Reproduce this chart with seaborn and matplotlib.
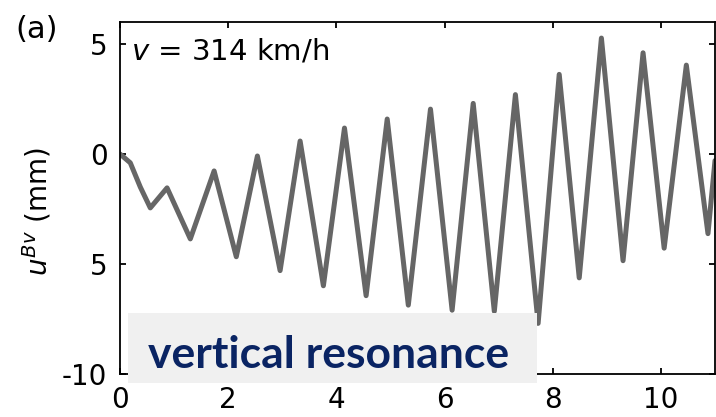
import matplotlib
matplotlib.use("Agg")
import matplotlib.pyplot as plt
from matplotlib.patches import Rectangle
import seaborn as sns
import pandas as pd

# data (time in s, displacement in mm)
t = [0.0, 0.19, 0.375, 0.56, 0.87, 1.30, 1.74, 2.15, 2.54, 2.96, 3.33, 3.76,
     4.15, 4.55, 4.94, 5.33, 5.74, 6.14, 6.53, 6.92, 7.31, 7.73, 8.12, 8.49,
     8.90, 9.30, 9.67, 10.06, 10.47, 10.87, 11.0]
u = [0.0, -0.4, -1.5, -2.45, -1.54, -3.86, -0.77, -4.67, -0.09, -5.3, 0.59, -5.99,
     1.18, -6.44, 1.59, -6.87, 2.04, -7.1, 2.3, -7.15, 2.7, -7.7, 3.62, -5.63,
     5.27, -4.85, 4.6, -4.28, 4.04, -3.62, -0.3]
xticks = [0, 2, 4, 6, 8, 10]
yticks = [5, 0, -5, -10]
ytick_labels = ["5", "0", "5", "-10"]
speed_label = "$v$ = 314 km/h"
panel_label = "(a)"
ylabel = "$u^{Bv}$ (mm)"
note = "vertical resonance"

sns.set_style("ticks")
plt.rcParams["font.family"] = ["DejaVu Sans"]
plt.rcParams["text.color"] = "black"
plt.rcParams["axes.labelcolor"] = "black"
plt.rcParams["xtick.color"] = "black"
plt.rcParams["ytick.color"] = "black"

df = pd.DataFrame({"t": t, "u": u})

fig = plt.figure(figsize=(7.16, 4.17), dpi=100)
ax = fig.add_axes([120 / 716, 1 - 374 / 417, 595 / 716, 352 / 417])

sns.lineplot(data=df, x="t", y="u", ax=ax, color="#666666", linewidth=3.6,
             sort=False, estimator=None)
for ln in ax.lines:
    ln.set_solid_joinstyle("round")
    ln.set_solid_capstyle("round")

ax.set_xlim(0, 11)
ax.set_ylim(-10, 6)
ax.set_xticks(xticks)
ax.set_xticklabels([str(v) for v in xticks])
ax.set_yticks(yticks)
ax.set_yticklabels(ytick_labels)
ax.tick_params(direction="in", length=4, width=1.3, top=True, right=True,
               labelsize=20, pad=9, colors="black", labelcolor="black")
for s in ax.spines.values():
    s.set_visible(True)
    s.set_color("black")
    s.set_linewidth(1.3)

ax.set_xlabel("")
ax.set_ylabel(ylabel, fontsize=20, color="black")
ax.yaxis.set_label_coords(-0.112, 0.46)

ax.text(0.018, 0.955, speed_label, transform=ax.transAxes, fontsize=21,
        ha="left", va="top", color="black")
fig.text(15 / 716, 1 - 38 / 417, panel_label, fontsize=22, ha="left",
         va="baseline", color="black")

rect = Rectangle((128 / 716, 1 - 383 / 417), (537 - 128) / 716, 70 / 417,
                 transform=fig.transFigure, facecolor="#f0f0f0",
                 edgecolor="none", zorder=5)
fig.patches.append(rect)
fig.text(148 / 716, 1 - 368 / 417, note, fontsize=32, fontweight="bold",
         family=["Lato", "DejaVu Sans"], color="#0a2463", ha="left",
         va="baseline", zorder=6)

fig.savefig("out.png", dpi=100)
